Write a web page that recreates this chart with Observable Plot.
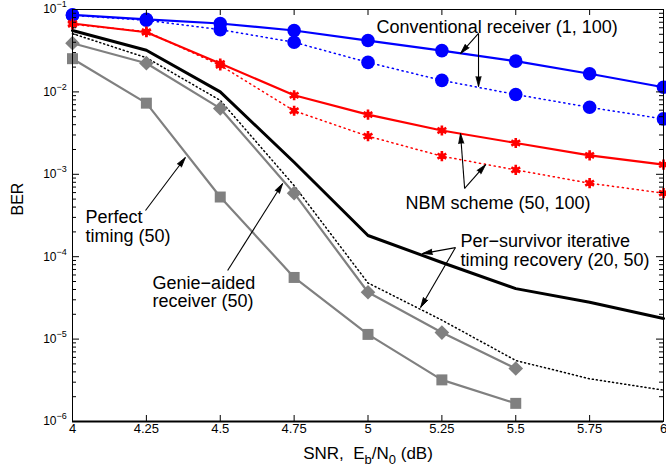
<!DOCTYPE html>
<html><head><meta charset="utf-8">
<script src="https://cdn.jsdelivr.net/npm/d3@7"></script>
<script src="https://cdn.jsdelivr.net/npm/@observablehq/plot@0.6"></script>
<style>
body{margin:0;background:#fff}
svg{font-family:"Liberation Sans",Arial,Helvetica,sans-serif}
</style>
</head><body><div id="chart"></div>
<script>
// SNR grid
const snr = [4, 4.25, 4.5, 4.75, 5, 5.25, 5.5, 5.75, 6];
const snrShort = [4, 4.25, 4.5, 4.75, 5, 5.25, 5.5];

// Conventional receiver (1, 100)
const convSolid  = [0.086, 0.076, 0.0676, 0.0556, 0.042, 0.0317, 0.0236, 0.0166, 0.0114];
const convDotted = [0.085, 0.074, 0.057, 0.040, 0.0228, 0.0138, 0.0093, 0.0065, 0.0047];
// NBM scheme (50, 100)
const nbmSolid  = [0.0676, 0.053, 0.0221, 0.0091, 0.0053, 0.0034, 0.0024, 0.0017, 0.00131];
const nbmDotted = [0.066, 0.054, 0.021, 0.0059, 0.0029, 0.00166, 0.00113, 0.00078, 0.00059];
// Per-survivor iterative timing recovery (20, 50)
const psSolid  = [0.0556, 0.032, 0.0100, 0.0014, 1.81e-4, 8.5e-5, 4.1e-5, 2.8e-5, 1.78e-5];
const psDotted = [0.051, 0.026, 0.0079, 7.3e-4, 4.8e-5, 1.7e-5, 5.5e-6, 3.3e-6, 2.4e-6];
// Genie-aided receiver (50)
const genie = [0.039, 0.0223, 0.0063, 5.9e-4, 3.7e-5, 1.2e-5, 4.4e-6];
// Perfect timing (50)
const perfect = [0.0253, 0.0073, 5.3e-4, 5.6e-5, 1.14e-5, 3.2e-6, 1.66e-6];

// Ticks
const xTicks = [4, 4.25, 4.5, 4.75, 5, 5.25, 5.5, 5.75, 6];
const xTickLabels = ["4", "4.25", "4.5", "4.75", "5", "5.25", "5.5", "5.75", "6"];
const yDecades = [1e-1, 1e-2, 1e-3, 1e-4, 1e-5, 1e-6];
const yExponents = ["\u22121", "\u22122", "\u22123", "\u22124", "\u22125", "\u22126"];
const yMinor = [];
for (let e = -6; e < -1; e++) for (let m = 2; m <= 9; m++) yMinor.push(m * Math.pow(10, e));

// Titles
const yTitle = "BER";
const xTitleParts = ["SNR,  E", "b", "/N", "0", " (dB)"];

// Annotations (data coordinates)
const labels = [
  {x: 5.029, y: 0.0622, text: "Conventional receiver (1, 100)"},
  {x: 5.127, y: 4.43e-4, text: "NBM scheme (50, 100)"},
  {x: 5.313, y: 1.19e-4, text: "Per\u2212survivor iterative\ntiming recovery (20, 50)"},
  {x: 4.044, y: 2.33e-4, text: "Perfect\ntiming (50)"},
  {x: 4.271, y: 3.73e-5, text: "Genie\u2212aided\nreceiver (50)"}
];
const arrows = [
  {x1: 5.374, y1: 0.0512, x2: 5.313, y2: 0.0292},
  {x1: 5.374, y1: 0.0512, x2: 5.374, y2: 0.0116},
  {x1: 5.327, y1: 6.73e-4, x2: 5.313, y2: 3.13e-3},
  {x1: 5.327, y1: 6.73e-4, x2: 5.398, y2: 1.31e-3},
  {x1: 5.296, y1: 1.29e-4, x2: 5.184, y2: 1.09e-4},
  {x1: 5.296, y1: 1.29e-4, x2: 5.178, y2: 2.42e-5},
  {x1: 4.247, y1: 3.64e-4, x2: 4.382, y2: 1.60e-3},
  {x1: 4.525, y1: 6.8e-5, x2: 4.711, y2: 7.73e-4}
];

const rows = (xs, ys) => xs.map((x, i) => ({x, y: ys[i]}));
const blue = "#0000ff", red = "#ff0000", gray = "#808080";

const W = 666, H = 470, mL = 72, mR = 3, mT = 9, mB = 49;
const innerW = W - mL - mR, innerH = H - mT - mB;
const xOpts = {domain: [4, 6], axis: null};
const yOpts = {type: "log", domain: [1e-6, 1e-1], axis: null};

// arrow-head orientation via the library's scales
const sx = Plot.scale({x: {...xOpts, range: [mL, W - mR]}});
const sy = Plot.scale({y: {...yOpts, range: [H - mB, mT]}});
const heads = arrows.map(a => {
  const dx = sx.apply(a.x2) - sx.apply(a.x1);
  const dy = sy.apply(a.y2) - sy.apply(a.y1);
  return {...a, rot: Math.atan2(dy, dx) * 180 / Math.PI + 90};
});

const dotted = "1.2,3.8";

const plot = Plot.plot({
  width: W, height: H,
  marginLeft: mL, marginRight: mR, marginTop: mT, marginBottom: mB,
  x: xOpts,
  y: yOpts,
  marks: [
    // lines
    Plot.line(rows(snr, convDotted), {x: "x", y: "y", stroke: blue, strokeWidth: 1.5, strokeDasharray: dotted}),
    Plot.line(rows(snr, convSolid), {x: "x", y: "y", stroke: blue, strokeWidth: 2.2}),
    Plot.line(rows(snr, nbmDotted), {x: "x", y: "y", stroke: red, strokeWidth: 1.5, strokeDasharray: dotted}),
    Plot.line(rows(snr, nbmSolid), {x: "x", y: "y", stroke: red, strokeWidth: 2.2}),
    Plot.line(rows(snr, psDotted), {x: "x", y: "y", stroke: "black", strokeWidth: 1.5, strokeDasharray: "1.1,3"}),
    Plot.line(rows(snr, psSolid), {x: "x", y: "y", stroke: "black", strokeWidth: 3}),
    Plot.line(rows(snrShort, genie), {x: "x", y: "y", stroke: gray, strokeWidth: 2.2}),
    Plot.line(rows(snrShort, perfect), {x: "x", y: "y", stroke: gray, strokeWidth: 2.2}),
    // markers
    Plot.dot(rows(snr, convSolid), {x: "x", y: "y", r: 6.8, fill: blue}),
    Plot.dot(rows(snr, convDotted), {x: "x", y: "y", r: 6.8, fill: blue}),
    Plot.dot(rows(snr, nbmSolid), {x: "x", y: "y", symbol: "asterisk", r: 4.8, stroke: red, strokeWidth: 2.6}),
    Plot.dot(rows(snr, nbmSolid), {x: "x", y: "y", r: 3, fill: red}),
    Plot.dot(rows(snr, nbmDotted), {x: "x", y: "y", symbol: "asterisk", r: 4.8, stroke: red, strokeWidth: 2.6}),
    Plot.dot(rows(snr, nbmDotted), {x: "x", y: "y", r: 3, fill: red}),
    Plot.dot(rows(snrShort, genie), {x: "x", y: "y", symbol: "diamond2", r: 6.6, fill: gray}),
    Plot.dot(rows(snrShort, perfect), {x: "x", y: "y", symbol: "square", r: 6.2, fill: gray}),
    // frame and ticks
    Plot.frame({stroke: "black", strokeWidth: 1}),
    Plot.ruleY([1e-6], {stroke: "black", strokeWidth: 2}),
    Plot.tickX(xTicks, {x: d => d, stroke: "black", insetTop: innerH - 6}),
    Plot.tickX(xTicks, {x: d => d, stroke: "black", insetBottom: innerH - 6}),
    Plot.tickY(yDecades, {y: d => d, stroke: "black", insetRight: innerW - 7}),
    Plot.tickY(yDecades, {y: d => d, stroke: "black", insetLeft: innerW - 7}),
    Plot.tickY(yMinor, {y: d => d, stroke: "black", insetRight: innerW - 4}),
    Plot.tickY(yMinor, {y: d => d, stroke: "black", insetLeft: innerW - 4}),
    // tick labels
    Plot.text(xTicks, {x: d => d, text: (d, i) => xTickLabels[i], frameAnchor: "bottom", dy: 11, fontSize: 13, fill: "black"}),
    Plot.text(yDecades, {y: d => d, text: () => "10", frameAnchor: "left", dx: -16, textAnchor: "end", fontSize: 12, fill: "black"}),
    Plot.text(yDecades, {y: d => d, text: (d, i) => yExponents[i], frameAnchor: "left", dx: -16, dy: -5, textAnchor: "start", fontSize: 9, fill: "black"}),
    // axis titles
    Plot.text([yTitle], {frameAnchor: "left", dx: -55, rotate: -90, fontSize: 16, fill: "black"}),
    Plot.text([xTitleParts.join("")], {frameAnchor: "bottom", dy: 37, fontSize: 17, fill: "black"}),
    // annotations
    Plot.link(arrows, {x1: "x1", y1: "y1", x2: "x2", y2: "y2", stroke: "black", strokeWidth: 1.1}),
    Plot.vector(heads, {x: "x2", y: "y2", rotate: "rot", anchor: "end", shape: "spike", length: 10, r: 2.6, fill: "black", stroke: "black", strokeWidth: 0.8}),
    Plot.text(labels, {x: "x", y: "y", text: "text", textAnchor: "start", fontSize: 18, lineHeight: 1.05, fill: "black"})
  ]
});

// x-axis title with subscripts
const joined = xTitleParts.join("");
const xl = Array.from(plot.querySelectorAll("text")).find(t => t.textContent === joined);
if (xl) {
  xl.textContent = "";
  const t = d3.select(xl).style("white-space", "pre");
  t.append("tspan").text(xTitleParts[0]);
  t.append("tspan").attr("dy", 5).attr("font-size", 13).text(xTitleParts[1]);
  t.append("tspan").attr("dy", -5).text(xTitleParts[2]);
  t.append("tspan").attr("dy", 5).attr("font-size", 13).text(xTitleParts[3]);
  t.append("tspan").attr("dy", -5).text(xTitleParts[4]);
}
document.getElementById("chart").appendChild(plot);
</script>
</body></html>
